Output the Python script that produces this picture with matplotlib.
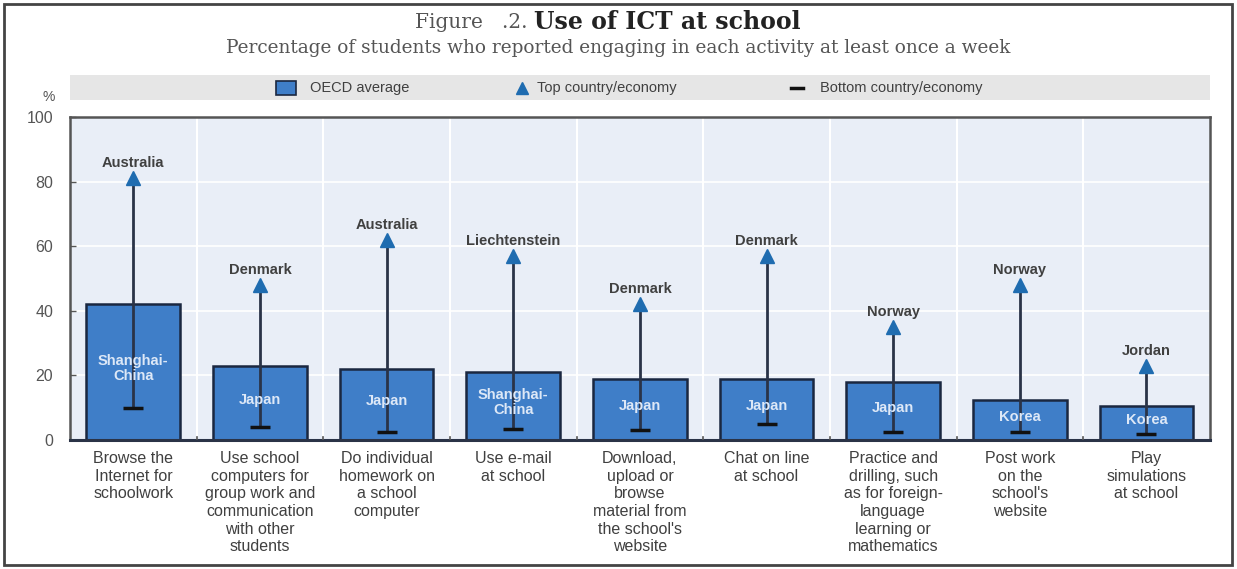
import numpy as np
import matplotlib.pyplot as plt
from matplotlib.patches import Rectangle
from matplotlib.lines import Line2D

# Daten
activities = [
    "Browse the\nInternet for\nschoolwork",
    "Use school\ncomputers for\ngroup work and\ncommunication\nwith other\nstudents",
    "Do individual\nhomework on\na school\ncomputer",
    "Use e-mail\nat school",
    "Download,\nupload or\nbrowse\nmaterial from\nthe school's\nwebsite",
    "Chat on line\nat school",
    "Practice and\ndrilling, such\nas for foreign-\nlanguage\nlearning or\nmathematics",
    "Post work\non the\nschool's\nwebsite",
    "Play\nsimulations\nat school",
]
oecd_avg = [42, 23, 22, 21, 19, 19, 18, 12.5, 10.5]
top_val = [81, 48, 62, 57, 42, 57, 35, 48, 23]
bottom_val = [10, 4, 2.5, 3.5, 3, 5, 2.5, 2.5, 2]
top_country = ["Australia", "Denmark", "Australia", "Liechtenstein", "Denmark",
               "Denmark", "Norway", "Norway", "Jordan"]
bottom_country = ["Shanghai-\nChina", "Japan", "Japan", "Shanghai-\nChina", "Japan",
                  "Japan", "Japan", "Korea", "Korea"]

plt.rcParams['font.family'] = ['Liberation Sans Narrow', 'Liberation Sans', 'DejaVu Sans']

bar_color = '#3f7ec8'
edge_color = '#1a2740'
tri_color = '#1f6cb0'
text_color = '#404040'

fig = plt.figure(figsize=(12.37, 5.69), dpi=100)
ax = fig.add_axes([0.0566, 0.2267, 0.9214, 0.5677])
ax.set_facecolor('#e9eef7')

x = np.arange(len(activities))
ax.bar(x, oecd_avg, width=0.74, color=bar_color, edgecolor=edge_color, linewidth=1.8, zorder=2)

# Linien von unten nach oben
ax.vlines(x, bottom_val, top_val, color='#2a3347', linewidth=2, zorder=3)
ax.plot(x, top_val, linestyle='none', marker='^', markersize=10, color=tri_color,
        markeredgecolor=tri_color, zorder=4)
ax.plot(x, bottom_val, linestyle='none', marker='_', markersize=14, markeredgewidth=2.5,
        color='#111111', zorder=4)

for i in range(len(activities)):
    ax.text(x[i], top_val[i] + 2.5, top_country[i], ha='center', va='bottom',
            fontsize=10.5, fontweight='bold', color=text_color, zorder=5)
    ax.text(x[i], oecd_avg[i] / 2 + 1, bottom_country[i], ha='center', va='center',
            fontsize=10.5, fontweight='bold', color='#dde8f7', linespacing=1.1, zorder=5)

ax.set_xlim(-0.5, len(activities) - 0.5)
ax.set_ylim(0, 100)
ax.set_yticks([0, 20, 40, 60, 80, 100])
ax.set_xticks(x)
ax.set_xticklabels(activities, fontsize=11.5, color=text_color, linespacing=1.22, va='top')
ax.tick_params(axis='x', length=0, pad=8)
ax.tick_params(axis='y', labelsize=11.5, colors='#555555', length=4, width=1,
               direction='in', pad=12)

# Gitter
for yv in [20, 40, 60, 80]:
    ax.axhline(yv, color='white', linewidth=1.2, zorder=1)
for xv in np.arange(0.5, len(activities) - 0.5, 1):
    ax.axvline(xv, color='white', linewidth=1.5, zorder=1)
    ax.plot([xv, xv], [0, 1], color='#555555', linewidth=1.2, zorder=3)

for side in ['top', 'left', 'right']:
    ax.spines[side].set_color('#555555')
    ax.spines[side].set_linewidth(1.8)
ax.spines['bottom'].set_color('#2a3347')
ax.spines['bottom'].set_linewidth(2.2)

ax.text(-0.019, 1.04, '%', transform=ax.transAxes, fontsize=10, color='#555555',
        ha='center', va='bottom')

# Legende als grauer Streifen
ax_pos = ax.get_position()
fig.patches.append(Rectangle((ax_pos.x0, 1 - 100 / 569), ax_pos.width, 25 / 569,
                             transform=fig.transFigure, facecolor='#e6e6e6',
                             edgecolor='none', zorder=0))
ly = 1 - 88 / 569
fig.patches.append(Rectangle((276 / 1237, ly - 7 / 569), 20 / 1237, 14 / 569,
                             transform=fig.transFigure, facecolor=bar_color,
                             edgecolor=edge_color, linewidth=1.2))
fig.text(310 / 1237, ly, 'OECD average', fontsize=10.5, color=text_color, va='center')
fig.lines.append(Line2D([522 / 1237], [ly], marker='^', markersize=8, color=tri_color,
                        transform=fig.transFigure))
fig.text(537 / 1237, ly, 'Top country/economy', fontsize=10.5, color=text_color, va='center')
fig.lines.append(Line2D([791 / 1237, 803 / 1237], [ly, ly], color='#111111', linewidth=2.5,
                        transform=fig.transFigure))
fig.text(820 / 1237, ly, 'Bottom country/economy', fontsize=10.5, color=text_color, va='center')

# Titel
fig.text(534 / 1237, 1 - 22 / 569, 'Figure   .2. ', family='DejaVu Serif', fontsize=14.5,
         color='#555555', ha='right', va='center')
fig.text(534 / 1237, 1 - 22 / 569, 'Use of ICT at school', family='DejaVu Serif',
         fontsize=17, fontweight='bold', color='#222222', ha='left', va='center')
fig.text(0.5, 1 - 48 / 569,
         'Percentage of students who reported engaging in each activity at least once a week',
         family='DejaVu Serif', fontsize=13.3, color='#555555', ha='center', va='center')

# Rahmen
fig.patches.append(Rectangle((4 / 1237, 4 / 569), 1228 / 1237, 561 / 569,
                             transform=fig.transFigure, facecolor='none',
                             edgecolor='#444444', linewidth=2))

plt.savefig("out.png", dpi=100)
